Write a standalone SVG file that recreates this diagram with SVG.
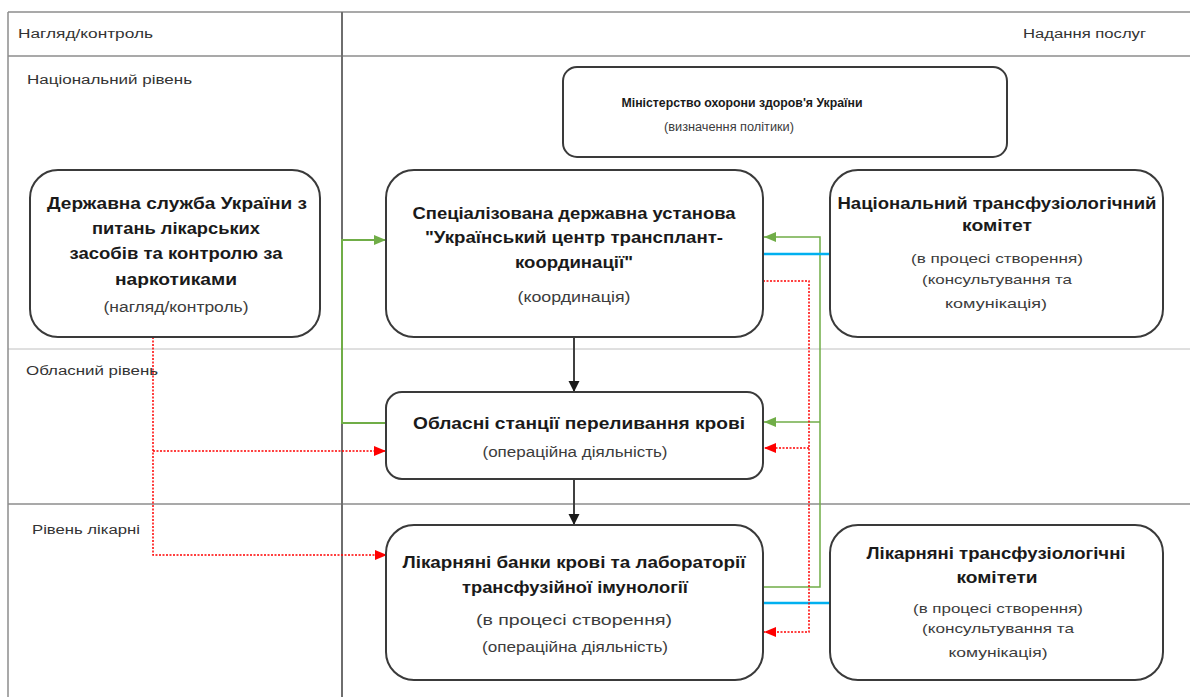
<svg xmlns="http://www.w3.org/2000/svg" width="1190" height="697" viewBox="0 0 1190 697">
<style>
.bg{fill:#ffffff}
.grid{stroke:#8c8c8c;stroke-width:1.5;fill:none}
.gridl{stroke:#c0c0c0;stroke-width:1;fill:none}
.box{fill:#ffffff;stroke:#3a3a3a;stroke-width:2}
.lbl{font-family:"Liberation Sans",Arial,sans-serif;font-size:12px;fill:#333333}
.t{font-family:"Liberation Sans",Arial,sans-serif;font-size:16px;font-weight:bold;fill:#1a1a1a;text-anchor:middle}
.tm{font-family:"Liberation Sans",Arial,sans-serif;font-size:13px;font-weight:bold;fill:#1a1a1a;text-anchor:middle}
.s{font-family:"Liberation Sans",Arial,sans-serif;font-size:14px;fill:#3c3c3c;text-anchor:middle}
.ss{font-family:"Liberation Sans",Arial,sans-serif;font-size:13px;fill:#3c3c3c;text-anchor:middle}
.sm{font-family:"Liberation Sans",Arial,sans-serif;font-size:12px;fill:#3c3c3c;text-anchor:middle}
.blk{stroke:#404040;stroke-width:2;fill:none}
.grn{stroke:#70ad47;stroke-width:2;fill:none}
.grn2{stroke:#70ad47;stroke-width:1.5;fill:none}
.blu{stroke:#00b0f0;stroke-width:2.5;fill:none}
.red{stroke:#ff0000;stroke-width:1.5;stroke-dasharray:2 1.5;fill:none}
</style>
<defs>
<marker id="mBlk" markerUnits="userSpaceOnUse" markerWidth="14" markerHeight="12" refX="11" refY="5.5" orient="auto"><path d="M0,0 L11,5.5 L0,11 z" fill="#1a1a1a"/></marker>
<marker id="mGrn" markerUnits="userSpaceOnUse" markerWidth="14" markerHeight="12" refX="12" refY="5" orient="auto"><path d="M0,0 L12,5 L0,10 z" fill="#70ad47"/></marker>
<marker id="mRed" markerUnits="userSpaceOnUse" markerWidth="14" markerHeight="12" refX="12" refY="5" orient="auto"><path d="M0,0 L12,5 L0,10 z" fill="#ff0000"/></marker>
</defs>
<rect class="bg" x="0" y="0" width="1190" height="697"/>

<g id="grid">
<line class="grid" x1="8" y1="12" x2="1190" y2="12"/>
<line class="grid" x1="8" y1="56" x2="1190" y2="56"/>
<line class="gridl" x1="8" y1="349" x2="1190" y2="349"/>
<line class="grid" x1="8" y1="504" x2="1190" y2="504"/>
<line class="grid" x1="8" y1="12" x2="8" y2="697"/>
<line class="grid" x1="342" y1="12" x2="342" y2="697" style="stroke:#6e6e6e;stroke-width:2"/>
<text class="lbl" x="18" y="38" textLength="135" lengthAdjust="spacingAndGlyphs">Нагляд/контроль</text>
<text class="lbl" x="1023" y="38" textLength="123" lengthAdjust="spacingAndGlyphs">Надання послуг</text>
<text class="lbl" x="27" y="84" textLength="165" lengthAdjust="spacingAndGlyphs">Національний рівень</text>
<text class="lbl" x="26" y="375" textLength="132" lengthAdjust="spacingAndGlyphs">Обласний рівень</text>
<text class="lbl" x="32" y="534" textLength="108" lengthAdjust="spacingAndGlyphs">Рівень лікарні</text>
</g>

<g id="connectors">
<path class="blk" d="M574,337 V392" marker-end="url(#mBlk)"/>
<path class="blk" d="M574,479 V525" marker-end="url(#mBlk)"/>
<path class="grn" d="M386,423 H342 V240 H386" marker-end="url(#mGrn)"/>
<path class="grn2" d="M763,587 H820 V237 H764" marker-end="url(#mGrn)"/>
<path class="grn2" d="M820,422 H764" marker-end="url(#mGrn)"/>
<path class="blu" d="M763,254 H830"/>
<path class="blu" d="M763,603 H830"/>
<path class="red" d="M763,281 H809 V632 H764" marker-end="url(#mRed)"/>
<path class="red" d="M809,448 H764" marker-end="url(#mRed)"/>
<path class="red" d="M153,337 V555 H387" marker-end="url(#mRed)"/>
<path class="red" d="M153,451 H386" marker-end="url(#mRed)"/>
</g>

<g id="ministry">
<rect class="box" x="563" y="67" width="444" height="90" rx="14"/>
<text class="tm" x="742" y="107" textLength="241" lengthAdjust="spacingAndGlyphs">Міністерство охорони здоров'я України</text>
<text class="sm" x="729" y="131" textLength="130" lengthAdjust="spacingAndGlyphs">(визначення політики)</text>
</g>

<g id="state-service">
<rect class="box" x="30" y="170" width="290" height="167" rx="28"/>
<text class="t" x="177" y="209" textLength="260" lengthAdjust="spacingAndGlyphs">Державна служба України з</text>
<text class="t" x="176" y="234" textLength="168" lengthAdjust="spacingAndGlyphs">питань лікарських</text>
<text class="t" x="176" y="259" textLength="213" lengthAdjust="spacingAndGlyphs">засобів та контролю за</text>
<text class="t" x="176" y="285" textLength="122" lengthAdjust="spacingAndGlyphs">наркотиками</text>
<text class="s" x="176" y="312" textLength="145" lengthAdjust="spacingAndGlyphs">(нагляд/контроль)</text>
</g>

<g id="transplant-center">
<rect class="box" x="386" y="170" width="377" height="167" rx="28"/>
<text class="t" x="574" y="219" textLength="323" lengthAdjust="spacingAndGlyphs">Спеціалізована державна установа</text>
<text class="t" x="574" y="243" textLength="298" lengthAdjust="spacingAndGlyphs">"Український центр трансплант-</text>
<text class="t" x="574" y="268" textLength="118" lengthAdjust="spacingAndGlyphs">координації"</text>
<text class="s" x="574" y="302" textLength="113" lengthAdjust="spacingAndGlyphs">(координація)</text>
</g>

<g id="national-committee">
<rect class="box" x="830" y="170" width="333" height="167" rx="28"/>
<text class="t" x="997" y="209" textLength="319" lengthAdjust="spacingAndGlyphs">Національний трансфузіологічний</text>
<text class="t" x="997" y="231" textLength="70" lengthAdjust="spacingAndGlyphs">комітет</text>
<text class="ss" x="997" y="263" textLength="172" lengthAdjust="spacingAndGlyphs">(в процесі створення)</text>
<text class="ss" x="997" y="284" textLength="150" lengthAdjust="spacingAndGlyphs">(консультування та</text>
<text class="ss" x="996" y="308" textLength="102" lengthAdjust="spacingAndGlyphs">комунікація)</text>
</g>

<g id="oblast-stations">
<rect class="box" x="386" y="392" width="377" height="87" rx="16"/>
<text class="t" x="579" y="429" textLength="332" lengthAdjust="spacingAndGlyphs">Обласні станції переливання крові</text>
<text class="s" x="575" y="457" textLength="185" lengthAdjust="spacingAndGlyphs">(операційна діяльність)</text>
</g>

<g id="hospital-banks">
<rect class="box" x="386" y="525" width="377" height="155" rx="28"/>
<text class="t" x="574" y="568" textLength="343" lengthAdjust="spacingAndGlyphs">Лікарняні банки крові та лабораторії</text>
<text class="t" x="575" y="593" textLength="226" lengthAdjust="spacingAndGlyphs">трансфузійної імунології</text>
<text class="s" x="574" y="625" textLength="196" lengthAdjust="spacingAndGlyphs">(в процесі створення)</text>
<text class="s" x="575" y="652" textLength="186" lengthAdjust="spacingAndGlyphs">(операційна діяльність)</text>
</g>

<g id="hospital-committees">
<rect class="box" x="830" y="525" width="333" height="155" rx="28"/>
<text class="t" x="996" y="559" textLength="259" lengthAdjust="spacingAndGlyphs">Лікарняні трансфузіологічні</text>
<text class="t" x="997" y="583" textLength="81" lengthAdjust="spacingAndGlyphs">комітети</text>
<text class="ss" x="998" y="613" textLength="170" lengthAdjust="spacingAndGlyphs">(в процесі створення)</text>
<text class="ss" x="998" y="633" textLength="152" lengthAdjust="spacingAndGlyphs">(консультування та</text>
<text class="ss" x="998" y="657" textLength="99" lengthAdjust="spacingAndGlyphs">комунікація)</text>
</g>
</svg>
